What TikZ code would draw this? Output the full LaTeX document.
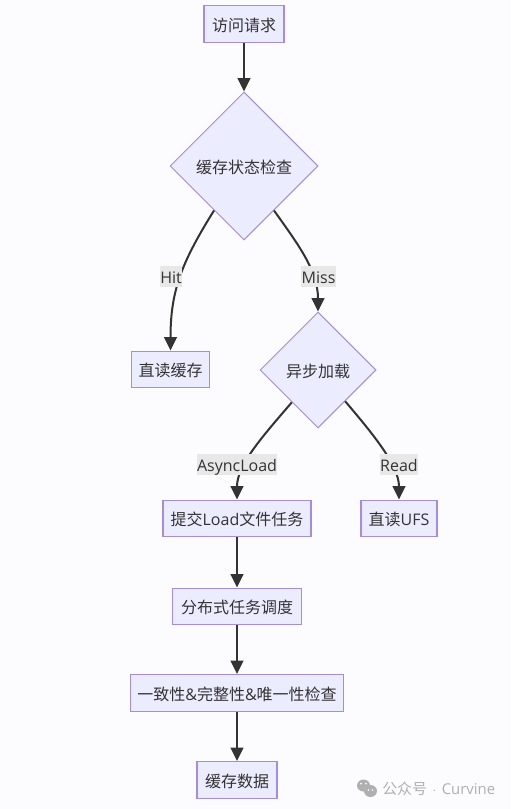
\documentclass[tikz,border=0pt]{standalone}
\usepackage{fontspec}
\usetikzlibrary{arrows.meta,shapes.geometric}
\setmainfont{Open Sans}
\newfontfamily\cjk{Noto Sans CJK SC}
\definecolor{boxfill}{HTML}{ECECFF}
\definecolor{boxline}{HTML}{A48CE0}
\definecolor{inkdark}{HTML}{333333}
\definecolor{labelfill}{HTML}{E8E8E8}
\definecolor{pagefill}{HTML}{FCFCFE}
\definecolor{markgray}{HTML}{B0B0B0}
\tikzset{
  procbox/.style={draw=boxline,fill=boxfill,line width=0.9pt,inner sep=0pt,text=inkdark,font=\fontsize{12}{14}\selectfont,text height=12.3pt,text depth=1.5pt,minimum height=27.5pt},
  choice/.style={diamond,shape aspect=1,draw=boxline,fill=boxfill,line width=0.75pt,inner sep=0pt,text=inkdark,font=\fontsize{12}{14}\selectfont,text height=12.3pt,text depth=1.5pt},
  edgelabel/.style={fill=labelfill,inner sep=0pt,text=inkdark,font=\fontsize{12}{14}\selectfont,text height=10.5pt,text depth=0.5pt,minimum height=16pt},
  flow/.style={draw=inkdark,line width=1.5pt,-{Triangle[length=10pt,width=9.5pt]}},
}
\begin{document}
\begin{tikzpicture}[x=0.75pt,y=-0.75pt]
\path[use as bounding box,fill=pagefill] (0,0) rectangle (511,809);
\node[procbox,minimum width=60pt] (request) at (244,24) {\cjk 访问请求};
\node[choice,minimum size=111pt] (check) at (244,166) {\cjk 缓存状态检查};
\node[procbox,minimum width=59pt] (direct) at (170.5,369.5) {\cjk 直读缓存};
\node[choice,minimum size=87pt] (async) at (318,370) {\cjk 异步加载};
\node[procbox,minimum width=111pt] (submit) at (237,518.5) {{\cjk 提交}Load{\cjk 文件任务}};
\node[procbox,minimum width=57pt] (ufs) at (399,518.5) {{\cjk 直读}UFS};
\node[procbox,minimum width=97pt] (sched) at (237,606.5) {\cjk 分布式任务调度};
\node[procbox,minimum width=160pt] (verify) at (237,693) {{\cjk 一致性}\&{\cjk 完整性}\&{\cjk 唯一性检查}};
\node[procbox,minimum width=60pt] (store) at (237,780) {\cjk 缓存数据};
\draw[flow] (request) -- (check);
\draw[flow] (check.236) .. controls (182,262) and (170.5,290) .. (direct.north);
\draw[flow] (check.304) .. controls (297,243) and (318,270) .. (async.north);
\draw[flow] (async.231) .. controls (262,437) and (237,465) .. (submit.north);
\draw[flow] (async.311) .. controls (372,433) and (399,465) .. (ufs.north);
\draw[flow] (submit) -- (sched);
\draw[flow] (sched) -- (verify);
\draw[flow] (verify) -- (store);
\node[edgelabel,minimum width=16.5pt] (hit) at (171,276.5) {Hit};
\node[edgelabel,minimum width=26pt] (miss) at (318.5,276.5) {Miss};
\node[edgelabel,minimum width=60pt] (load) at (237,464.5) {AsyncLoad};
\node[edgelabel,minimum width=28.5pt] (read) at (399,464.5) {Read};
\fill[markgray] (363.5,785.5) ellipse (6.5 and 6);
\fill[markgray] (370.5,791) ellipse (6.5 and 6);
\fill[pagefill] (361,783.5) circle (1) (366,783.5) circle (1) (368.5,790) circle (0.8) (372.5,790) circle (0.8);
\node[anchor=west,inner sep=0pt,text=markgray,font=\fontsize{11.2}{13}\selectfont] (mark) at (382,789) {{\cjk 公众号}\hspace{4pt}$\cdot$\hspace{4pt}Curvine};
\end{tikzpicture}
\end{document}
